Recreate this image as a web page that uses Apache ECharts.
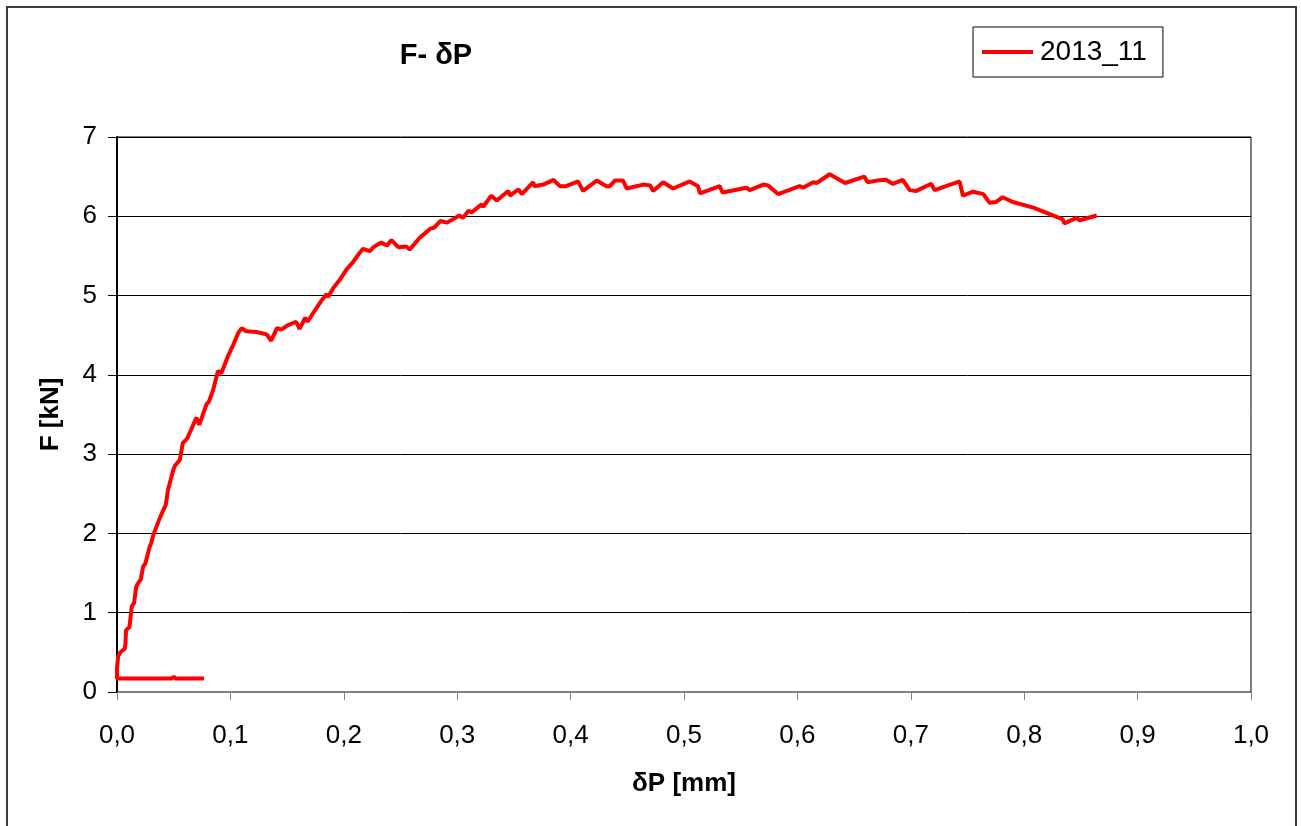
<!DOCTYPE html>
<html>
<head>
<meta charset="utf-8">
<title>F- δP</title>
<script src="https://cdn.jsdelivr.net/npm/echarts@6/dist/echarts.min.js"></script>
<style>
  html, body { margin: 0; padding: 0; background: #fff; }
  #chart { width: 1301px; height: 826px; }
</style>
</head>
<body>
<div id="chart"></div>
<script>
// Specimen 2013_11: displacement δP [mm] and force F [kN]
const seriesName = '2013_11';
const deltaP = [
  0.0767, 0.052, 0.050, 0.048, 0.030, 0.0, 0.0, 0.0, 0.001, 0.003, 0.007, 0.0075,
  0.008, 0.011, 0.013, 0.015, 0.017, 0.019, 0.021, 0.023, 0.025, 0.029, 0.030,
  0.032, 0.036, 0.037, 0.041, 0.043, 0.045, 0.0496, 0.051, 0.0555, 0.058, 0.062,
  0.066, 0.070, 0.0725, 0.079, 0.081, 0.085, 0.089, 0.092, 0.098, 0.1025, 0.104,
  0.107, 0.110,
  0.114, 0.123, 0.132, 0.136, 0.141, 0.145, 0.150, 0.158, 0.161, 0.166, 0.168,
  0.173, 0.180, 0.185, 0.186, 0.191, 0.197, 0.2025, 0.208, 0.213, 0.217, 0.223,
  0.226, 0.233, 0.238, 0.242, 0.248, 0.255, 0.258, 0.267, 0.276, 0.280, 0.285,
  0.291, 0.302, 0.305, 0.310, 0.313, 0.3215, 0.323, 0.326, 0.330, 0.335, 0.345,
  0.3465, 0.354, 0.357, 0.367, 0.368, 0.376, 0.385, 0.3905, 0.396, 0.4066, 0.411,
  0.423, 0.4316, 0.4346, 0.439, 0.4463, 0.4494, 0.464, 0.470, 0.4728, 0.4816,
  0.4904, 0.505, 0.5124, 0.514, 0.5315, 0.534, 0.555, 0.558, 0.570, 0.574, 0.583,
  0.602, 0.605, 0.614, 0.617, 0.6285, 0.630, 0.642, 0.659, 0.662, 0.670, 0.678,
  0.684, 0.693, 0.699, 0.705, 0.718, 0.721, 0.743, 0.746, 0.755, 0.764, 0.7695,
  0.775, 0.781, 0.790, 0.808, 0.822, 0.834, 0.8355, 0.846, 0.849, 0.864
];
const force = [
  0.17, 0.17, 0.19, 0.17, 0.17, 0.17, 0.19, 0.30, 0.45, 0.50, 0.55, 0.62,
  0.78, 0.82, 1.08, 1.12, 1.33, 1.38, 1.42, 1.58, 1.62, 1.84, 1.87,
  1.98, 2.13, 2.17, 2.30, 2.36, 2.55, 2.80, 2.85, 2.93, 3.14, 3.20,
  3.33, 3.46, 3.37, 3.63, 3.66, 3.82, 4.05, 4.02, 4.24, 4.38, 4.40,
  4.53, 4.59,
  4.55, 4.54, 4.51, 4.43, 4.59, 4.57, 4.62, 4.67, 4.58, 4.72, 4.67,
  4.78, 4.93, 5.02, 4.98, 5.10, 5.21, 5.33, 5.42, 5.52, 5.59, 5.56,
  5.61, 5.67, 5.63, 5.70, 5.61, 5.62, 5.58, 5.73, 5.84, 5.86, 5.94,
  5.92, 6.01, 5.98, 6.07, 6.05, 6.15, 6.12, 6.18, 6.26, 6.20, 6.32,
  6.26, 6.34, 6.28, 6.43, 6.38, 6.40, 6.46, 6.38, 6.38, 6.44, 6.32,
  6.45, 6.38, 6.38, 6.45, 6.45, 6.35, 6.40, 6.39, 6.32, 6.43,
  6.35, 6.44, 6.38, 6.29, 6.38, 6.30, 6.36, 6.33, 6.40, 6.39, 6.28,
  6.38, 6.36, 6.43, 6.42, 6.53, 6.53, 6.42, 6.50, 6.43, 6.45, 6.46,
  6.41, 6.46, 6.33, 6.32, 6.41, 6.33, 6.44, 6.26, 6.31, 6.28, 6.17,
  6.18, 6.24, 6.18, 6.11, 6.03, 5.96, 5.91, 5.98, 5.95, 6.01
];

const points = deltaP.map((x, i) => [x, force[i]]);
const fontFamily = 'Liberation Sans, Arial, sans-serif';

const chart = echarts.init(document.getElementById('chart'), null, { renderer: 'canvas' });
chart.setOption({
  backgroundColor: '#ffffff',
  animation: false,
  title: {
    text: 'F- δP',
    left: 431,
    top: 36,
    textAlign: 'center',
    textStyle: { fontFamily, fontSize: 29, fontWeight: 'bold', color: '#000' }
  },
  legend: {
    left: 973,
    top: 27,
    padding: [11, 16, 11, 9],
    borderColor: '#000',
    borderWidth: 1,
    itemWidth: 51,
    itemHeight: 4,
    textStyle: { fontFamily, fontSize: 28, color: '#000', padding: [0, 0, 0, 2] },
    data: [{ name: seriesName, icon: 'rect' }]
  },
  graphic: [{
    type: 'rect',
    shape: { x: 7, y: 7, width: 1289, height: 840 },
    style: { fill: 'none', stroke: '#3a3a3a', lineWidth: 2 },
    silent: true
  }],
  grid: {
    left: 117, right: 50, top: 137, bottom: 134,
    show: true, borderColor: '#000', borderWidth: 1
  },
  xAxis: {
    type: 'value',
    min: 0, max: 1, interval: 0.1,
    name: 'δP [mm]',
    nameLocation: 'middle',
    nameGap: 79,
    nameTextStyle: { fontFamily, fontSize: 26, fontWeight: 'bold', color: '#000' },
    axisLine: { show: true, onZero: false, lineStyle: { color: '#808080', width: 1 } },
    axisTick: { show: true, length: 8, lineStyle: { color: '#808080' } },
    axisLabel: {
      margin: 31, fontFamily, fontSize: 26, color: '#000',
      formatter: v => v.toFixed(1).replace('.', ',')
    },
    splitLine: { show: false }
  },
  yAxis: {
    type: 'value',
    min: 0, max: 7, interval: 1,
    name: 'F [kN]',
    nameLocation: 'middle',
    nameGap: 53,
    nameTextStyle: { fontFamily, fontSize: 26, fontWeight: 'bold', color: '#000' },
    axisLine: { show: true, lineStyle: { color: '#000', width: 2 } },
    axisTick: { show: true, length: 9, lineStyle: { color: '#000' } },
    axisLabel: { margin: 20, fontFamily, fontSize: 26, color: '#000' },
    splitLine: { show: true, lineStyle: { color: '#000', width: 1 } }
  },
  series: [{
    name: seriesName,
    type: 'line',
    data: points,
    showSymbol: false,
    symbol: 'none',
    lineStyle: { color: '#ff0000', width: 4 },
    itemStyle: { color: '#ff0000' },
    clip: false
  }]
});
</script>
</body>
</html>
